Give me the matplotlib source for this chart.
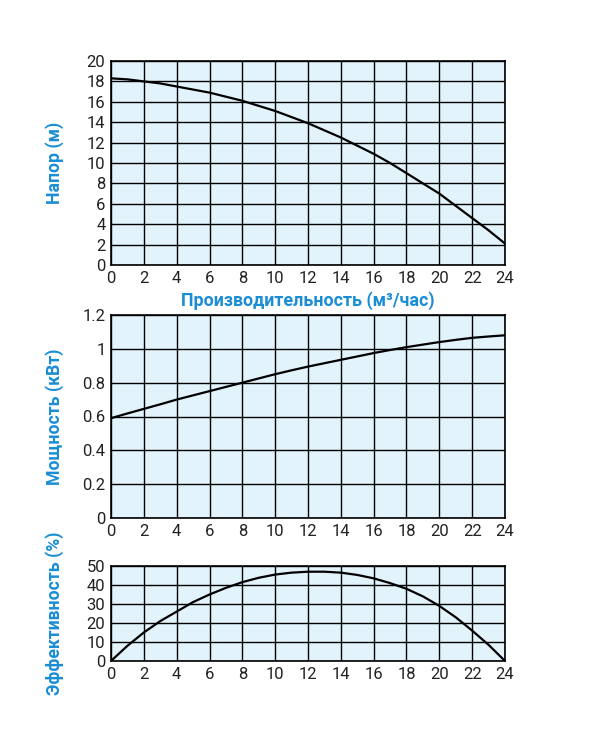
import matplotlib
matplotlib.use("Agg")
import matplotlib.pyplot as plt

plt.rcParams['font.family'] = ['Roboto', 'DejaVu Sans']

flow = list(range(0, 25))
head = [18.3, 18.2, 18.0, 17.8, 17.5, 17.2, 16.9, 16.5, 16.1, 15.6, 15.1, 14.5, 13.9,
        13.2, 12.5, 11.7, 10.9, 10.0, 9.0, 8.0, 7.0, 5.8, 4.6, 3.4, 2.1]
power = [0.59, 0.618, 0.645, 0.672, 0.70, 0.725, 0.75, 0.775, 0.80, 0.825, 0.85, 0.873, 0.895,
         0.915, 0.935, 0.955, 0.975, 0.993, 1.01, 1.025, 1.04, 1.053, 1.065, 1.073, 1.08]
eff = [0, 8, 15, 21, 26, 31, 35, 38.5, 41.5, 43.8, 45.5, 46.5, 47, 47, 46.5, 45.3, 43.5,
       41, 38, 34, 29, 23, 16, 8.5, 0]

xticks = list(range(0, 25, 2))
head_ticks = list(range(0, 21, 2))
power_ticks = [0, 0.2, 0.4, 0.6, 0.8, 1.0, 1.2]
power_labels = ['0', '0.2', '0.4', '0.6', '0.8', '1', '1.2']
eff_ticks = [0, 10, 20, 30, 40, 50]

xlabel = 'Производительность (м³/час)'
ylabels = ['Напор (м)', 'Мощность (кВт)', 'Эффективность (%)']

blue = '#1a8dd4'
bg = '#e2f3fc'

fig = plt.figure(figsize=(6.16, 7.42), dpi=100)
L, W = 111/616, 394/616
rects = [(L, 1-265/742, W, 204/742),
         (L, 1-518/742, W, 203/742),
         (L, 1-661/742, W, 95/742)]

datas = [head, power, eff]
ylims = [(0, 20), (0, 1.2), (0, 50)]
ytks = [head_ticks, power_ticks, eff_ticks]

for i, r in enumerate(rects):
    ax = fig.add_axes(r)
    ax.set_facecolor(bg)
    ax.plot(flow, datas[i], color='black', lw=1.6, zorder=3)
    ax.set_xlim(0, 24)
    ax.set_ylim(*ylims[i])
    ax.set_xticks(xticks)
    ax.set_yticks(ytks[i])
    if i == 1:
        ax.set_yticklabels(power_labels)
    ax.grid(True, color='black', lw=1.0, zorder=1)
    ax.set_axisbelow(True)
    for s in ax.spines.values():
        s.set_color('black')
        s.set_linewidth(1.2)
    ax.tick_params(length=0, labelsize=12, pad=4, colors='#222222')
    ax.set_ylabel(ylabels[i], color=blue, fontsize=12.7, fontweight='bold')
    ax.yaxis.set_label_coords(-47/394, 0.5)
    if i == 0:
        ax.set_xlabel(xlabel, color=blue, fontsize=12.8, fontweight='bold', labelpad=4)

fig.savefig('out.png', dpi=100)
